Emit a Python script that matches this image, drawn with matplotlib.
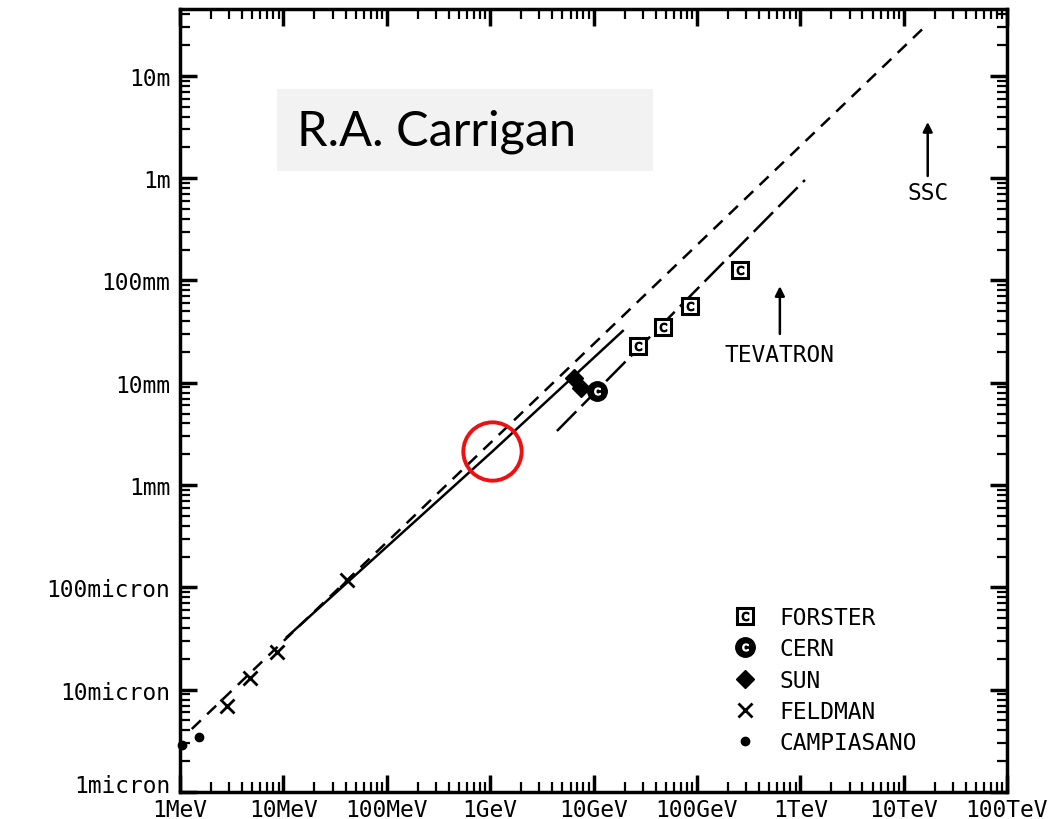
import matplotlib
matplotlib.use("Agg")
import matplotlib.pyplot as plt
import numpy as np
from matplotlib.legend_handler import HandlerTuple
from matplotlib.patches import Rectangle
from matplotlib.ticker import LogLocator, NullFormatter

# energies in eV, lengths in metres
dashed_E = [1.30e6, 1.60e13]
dashed_L = [4.13e-6, 30.1]
solid_E = [1.08e7, 1.04e9, 1.92e10]
solid_L = [3.27e-5, 2.11e-3, 3.21e-2]
longdash_E = [4.43e9, 1.11e12]
longdash_L = [3.38e-3, 0.960]

forster_E = [2.69e10, 4.69e10, 8.55e10, 2.61e11]
forster_L = [2.29e-2, 3.51e-2, 5.64e-2, 0.127]
cern_E = [1.08e10]
cern_L = [8.3e-3]
sun_E = [6.46e9, 7.55e9]
sun_L = [1.11e-2, 8.9e-3]
feldman_E = [2.85e6, 4.75e6, 8.67e6, 4.12e7]
feldman_L = [6.93e-6, 1.30e-5, 2.34e-5, 1.18e-4]
campiasano_E = [1.05e6, 1.53e6]
campiasano_L = [2.88e-6, 3.45e-6]

tevatron_E = 6.35e11
tevatron_L = [3.0e-2, 8.8e-2, 1.9e-2]   # arrow tail, head, label
ssc_E = 1.71e13
ssc_L = [1.05, 3.54, 0.72]
marked_E = 1.04e9
marked_L = 2.15e-3

x_ticks = [1e6, 1e7, 1e8, 1e9, 1e10, 1e11, 1e12, 1e13, 1e14]
x_labels = ["1MeV", "10MeV", "100MeV", "1GeV", "10GeV", "100GeV",
            "1TeV", "10TeV", "100TeV"]
y_ticks = [1e-6, 1e-5, 1e-4, 1e-3, 1e-2, 1e-1, 1, 10]
y_labels = ["1micron", "10micron", "100micron", "1mm", "10mm", "100mm",
            "1m", "10m"]

MONO = "DejaVu Sans Mono"
FS = 16.5

fig = plt.figure(figsize=(10.55, 8.2), dpi=100)
ax = fig.add_axes([180 / 1055, 27 / 820, 827 / 1055, 783 / 820])
ax.set_xscale("log")
ax.set_yscale("log")
ax.set_xlim(1e6, 1e14)
ax.set_ylim(1e-6, 45)

lw = 1.8
ax.plot(dashed_E, dashed_L, color="black", lw=lw, dashes=(5, 3.5))
ax.plot(solid_E, solid_L, color="black", lw=lw)
ax.plot(longdash_E, longdash_L, color="black", lw=lw, dashes=(11, 3))

f1, = ax.plot(forster_E, forster_L, ls="none", marker="s", ms=12,
              mfc="white", mec="black", mew=2.2)
f2, = ax.plot(forster_E, forster_L, ls="none", marker="$\\mathsf{C}$", ms=6,
              color="black")
c1, = ax.plot(cern_E, cern_L, ls="none", marker="o", ms=14, color="black")
c2, = ax.plot(cern_E, cern_L, ls="none", marker="$\\mathsf{C}$", ms=5,
              color="white")
s1, = ax.plot(sun_E, sun_L, ls="none", marker="D", ms=9, color="black")
fe, = ax.plot(feldman_E, feldman_L, ls="none", marker="x", ms=10, mew=2,
              color="black")
ca, = ax.plot(campiasano_E, campiasano_L, ls="none", marker="o", ms=6,
              color="black", clip_on=False)

# accelerator markers
ax.annotate("", xy=(tevatron_E, tevatron_L[1]), xytext=(tevatron_E, tevatron_L[0]),
            arrowprops=dict(arrowstyle="-|>", lw=1.8, color="black",
                            mutation_scale=14, shrinkA=0, shrinkB=0))
ax.text(tevatron_E, tevatron_L[2], "TEVATRON", family=MONO, fontsize=FS,
        ha="center", va="center")
ax.annotate("", xy=(ssc_E, ssc_L[1]), xytext=(ssc_E, ssc_L[0]),
            arrowprops=dict(arrowstyle="-|>", lw=1.8, color="black",
                            mutation_scale=14, shrinkA=0, shrinkB=0))
ax.text(ssc_E, ssc_L[2], "SSC", family=MONO, fontsize=FS,
        ha="center", va="center")

# red ring around 1 GeV
ax.plot([marked_E], [marked_L], marker="o", ms=42, mfc="none", mec="#ee1111",
        mew=2.8, zorder=5)

ax.set_xticks(x_ticks, x_labels)
ax.set_yticks(y_ticks, y_labels)
for axis in (ax.xaxis, ax.yaxis):
    axis.set_minor_locator(LogLocator(base=10, subs=np.arange(2, 10), numticks=100))
    axis.set_minor_formatter(NullFormatter())
ax.tick_params(which="both", direction="in", top=True, right=True)
ax.tick_params(which="major", length=12, width=2.5)
ax.tick_params(which="minor", length=7, width=1.6)
ax.tick_params(axis="x", pad=4)
ax.tick_params(axis="y", pad=7)
for lab in ax.get_xticklabels() + ax.get_yticklabels():
    lab.set_family(MONO)
    lab.set_fontsize(FS)
# keep "1micron" clear of "1MeV" below it
ax.get_yticklabels()[0].set_verticalalignment("baseline")
for sp in ax.spines.values():
    sp.set_linewidth(2.5)

leg = ax.legend([(f1, f2), (c1, c2), s1, fe, ca],
                ["FORSTER", "CERN", "SUN", "FELDMAN", "CAMPIASANO"],
                handler_map={tuple: HandlerTuple(ndivide=1)},
                loc="upper left", bbox_to_anchor=(0.667, 0.2375),
                frameon=False, borderpad=0, borderaxespad=0,
                handlelength=1.2, handletextpad=0.9, labelspacing=0.36,
                prop={"family": MONO, "size": FS})

# name box in the top left
fig.add_artist(Rectangle((277 / 1055, 1 - 172 / 820), 376 / 1055, 82 / 820,
                         transform=fig.transFigure, facecolor="#f2f2f2",
                         edgecolor="none", zorder=3))
fig.text(297 / 1055, 1 - 132 / 820, "R.A. Carrigan", family="Lato",
         fontsize=35, va="center", ha="left", zorder=4)

fig.savefig("out.png", dpi=100, facecolor="white")
